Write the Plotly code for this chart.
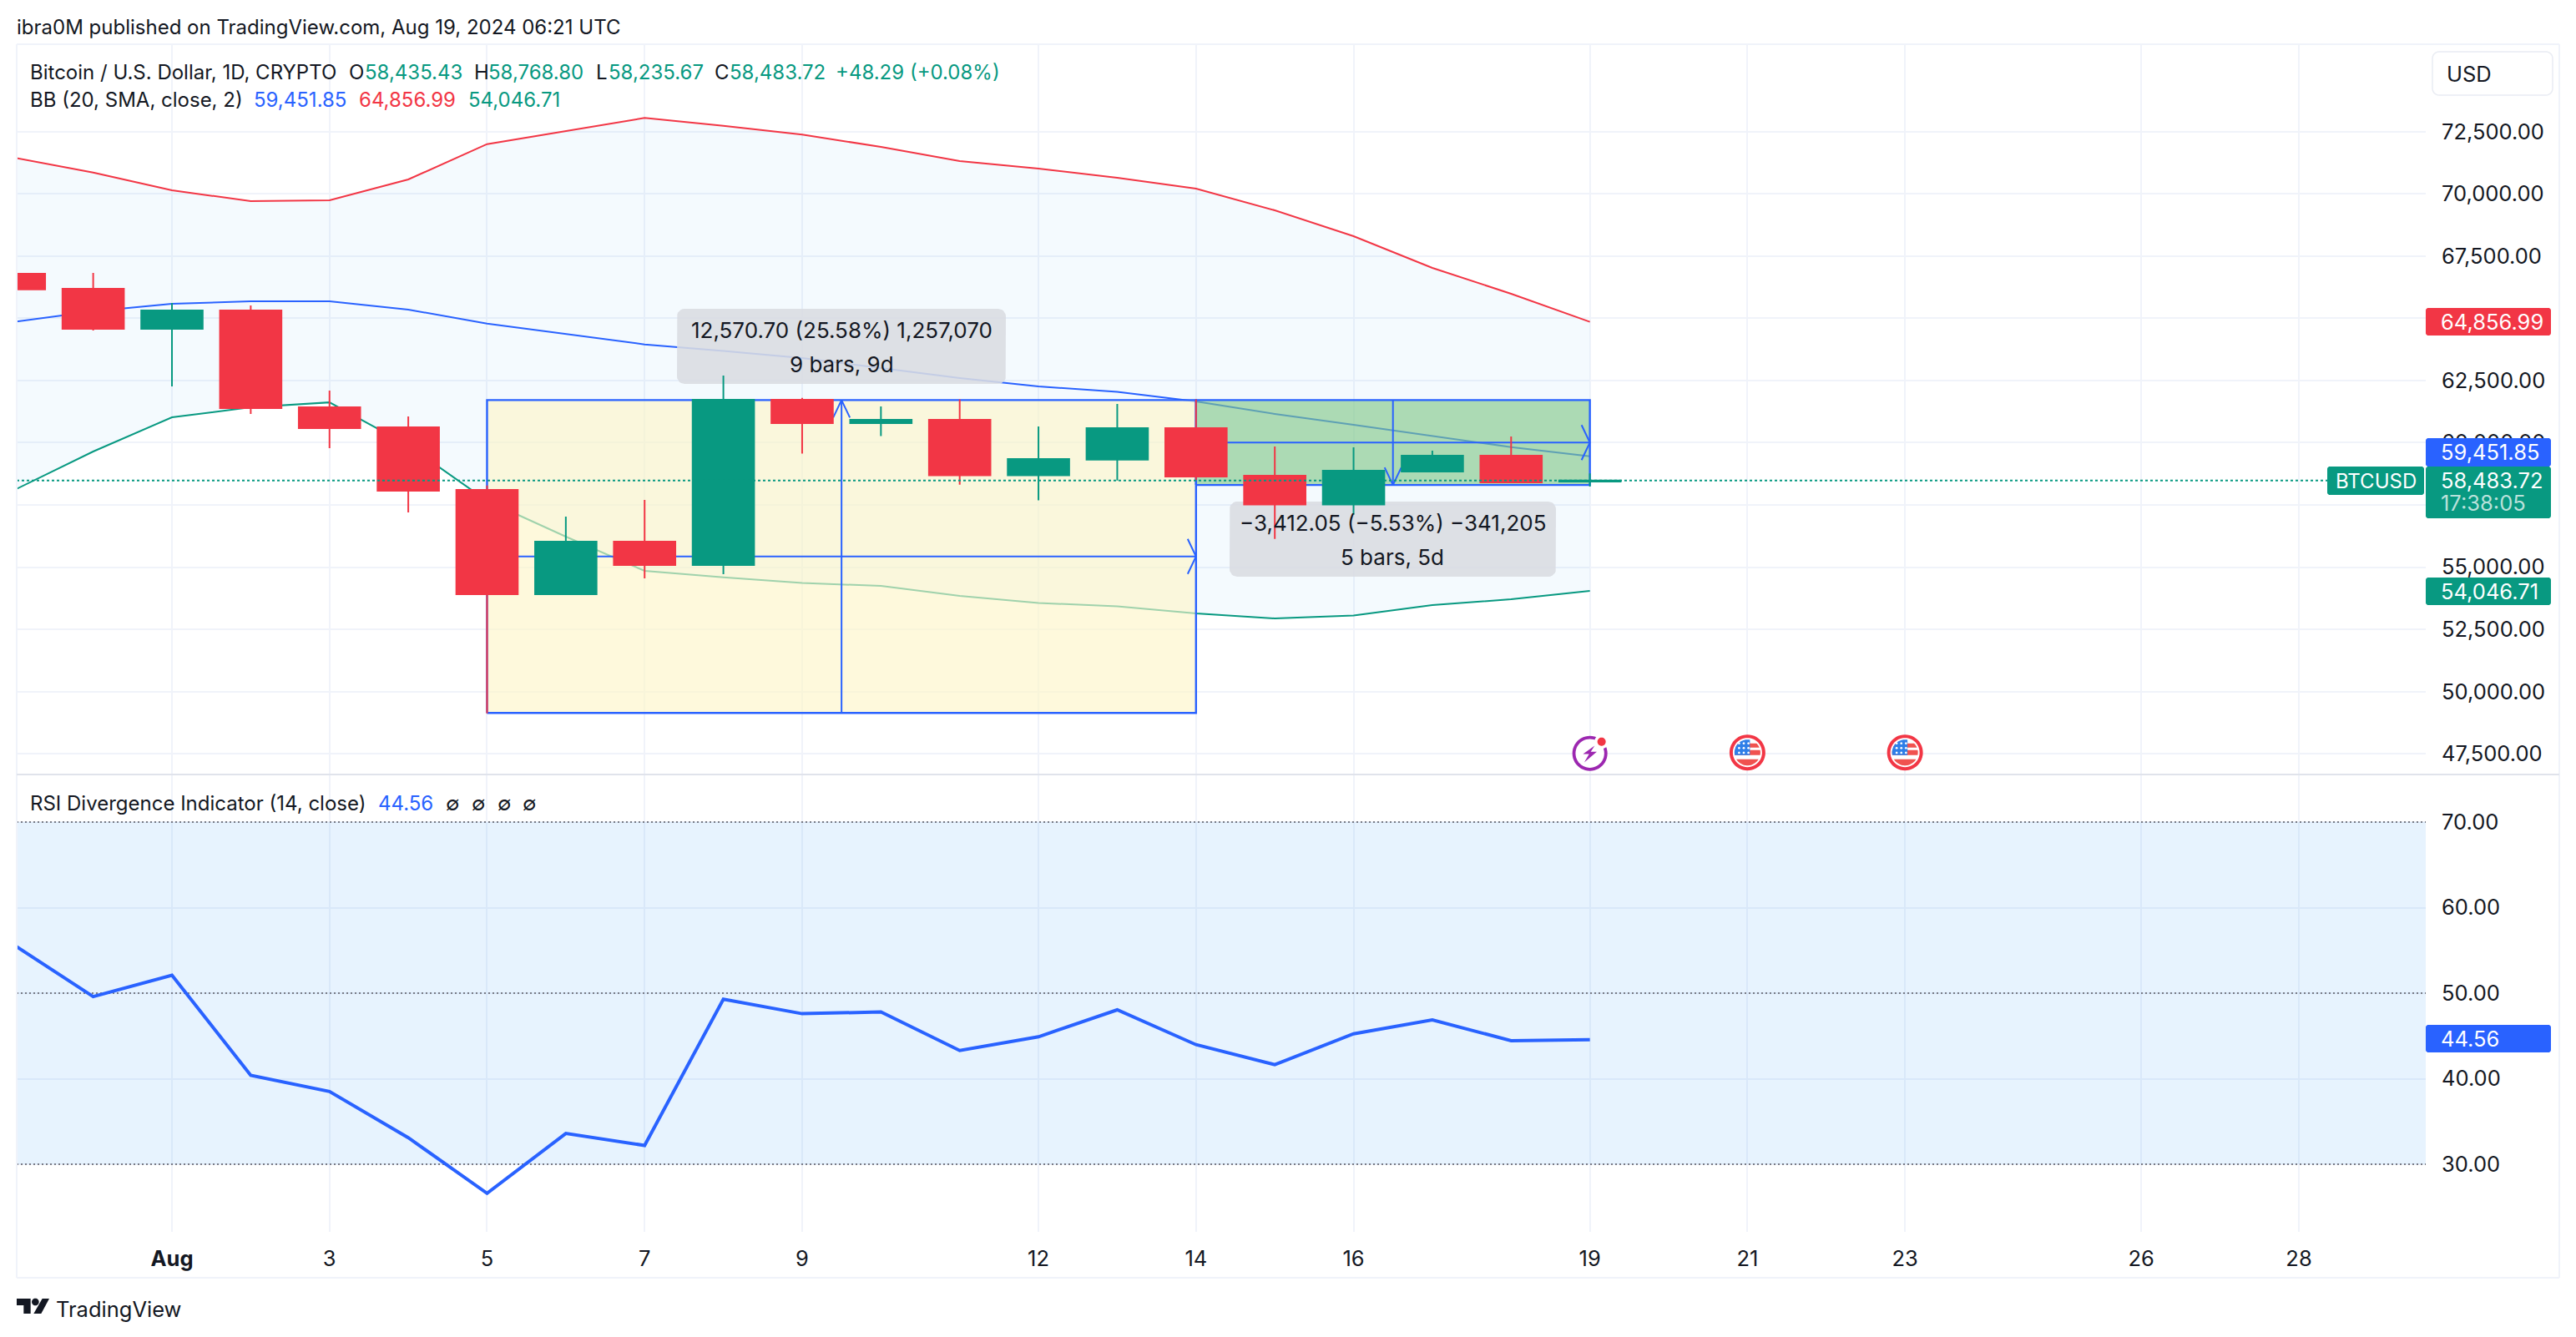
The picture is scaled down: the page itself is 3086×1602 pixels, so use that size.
import math
import pandas as pd
import plotly.graph_objects as go

W, H = 3086, 1602
RED, GREEN, BLUE, INK = "#f23645", "#089981", "#2962ff", "#131722"
GRID = "#f0f3fa"
FONT = "Inter"

dates = ["2024-07-30", "2024-07-31"] + [f"2024-08-{d:02d}" for d in range(1, 20)]
opens = [66789, 66185, 64576, 65313, 61423, 60619, 58103, 53912, 56024, 55085, 61725,
         60786, 60920, 58687, 59321, 60585, 58673, 57513, 58841, 59478, 58435.43]
highs = [66900, 66823, 65615, 65515, 62094, 61054, 58281, 57030, 57701, 62698, 61800,
         61457, 61739, 60652, 61558, 61739, 59847, 59814, 59680, 60253, 58768.80]
lows = [65300, 64509, 62262, 61155, 59780, 57198, 49121, 53900, 54549, 54716, 59559,
        60266, 58315, 57681, 58482, 58500, 56135, 57104, 58818, 58385, 58235.67]
closes = [66162, 64576, 65313, 61390, 60585, 58070, 53912, 56024, 55085, 61725, 60786,
          60920, 58687, 59344, 60585, 58640, 57513, 58875, 59478, 58405, 58483.72]
bb_upper = [71450, 70857, 70142, 69707, 69740, 70578, 71997, 72534, 73050, 72735, 72379,
            71886, 71316, 71014, 70646, 70210, 69338, 68298, 67024, 65984, 64856.99]
bb_basis = [64854, 65280, 65582, 65682, 65682, 65347, 64787, 64374, 63949, 63687, 63402,
            63000, 62597, 62262, 62040, 61658, 61155, 60719, 60283, 59824, 59451.85]
bb_lower = [58100, 59646, 61021, 61423, 61620, 59891, 57667, 56225, 54851, 54589, 54361,
            54247, 53845, 53559, 53429, 53140, 52939, 53056, 53476, 53710, 54046.71]
rsi = [55.6, 49.6, 52.1, 40.4, 38.5, 33.1, 26.6, 33.6, 32.2, 49.3, 47.6,
       47.8, 43.3, 44.9, 48.05, 43.98, 41.64, 45.25, 46.88, 44.44, 44.56]

price_ticks = [47500, 50000, 52500, 55000, 57500, 60000, 62500, 65000, 67500, 70000, 72500]
price_tick_text = ["47,500.00", "50,000.00", "52,500.00", "55,000.00", "", "60,000.00", "62,500.00", "", "67,500.00", "70,000.00", "72,500.00"]
rsi_ticks = [30, 40, 50, 60, 70]
date_ticks = ["2024-08-01", "2024-08-03", "2024-08-05", "2024-08-07", "2024-08-09", "2024-08-12", "2024-08-14",
              "2024-08-16", "2024-08-19", "2024-08-21", "2024-08-23", "2024-08-26", "2024-08-28"]
date_tick_text = ["<b>Aug</b>", "3", "5", "7", "9", "12", "14", "16", "19", "21", "23", "26", "28"]
event_days = ["2024-08-21", "2024-08-23"]

long_start, long_end = "2024-08-05", "2024-08-14"
long_low, long_high = 49142.0, 61713.0
short_start, short_end = "2024-08-14", "2024-08-19"
short_high, short_low = 61713.0, 58301.0
last_price = 58483.72

# pixel geometry of the panes
PX_LEFT, PX_RIGHT, PX_TOP, PX_SPLIT, PX_BOTTOM = 20, 2906, 53, 928, 1476
AUG1_PX, PX_PER_DAY = 206.0, 94.37
Y_72500_PX, USD_PER_PX = 157.7, 33.535
aug1 = pd.Timestamp("2024-08-01")


def px_x(px):
    return (aug1 + pd.Timedelta(days=(px - AUG1_PX) / PX_PER_DAY)).round("s")


def px_y(py):
    return 72500 - (py - Y_72500_PX) * USD_PER_PX


def day_px(d):
    return AUG1_PX + (pd.Timestamp(d) - aug1) / pd.Timedelta(days=1) * PX_PER_DAY


x_range = [px_x(PX_LEFT), px_x(PX_RIGHT)]
y_range = [px_y(PX_SPLIT), px_y(PX_TOP)]
rsi_range = [70 - (PX_BOTTOM - 985) / 10.25, 70 + (985 - PX_SPLIT) / 10.25]

fig = go.Figure()

# Bollinger bands (bottom of the stack)
fig.add_trace(go.Scatter(x=dates, y=bb_upper, mode="lines", line=dict(color=RED, width=2)))
fig.add_trace(go.Scatter(x=dates, y=bb_lower, mode="lines", line=dict(color=GREEN, width=2),
                         fill="tonexty", fillcolor="rgba(33,150,243,0.05)"))
fig.add_trace(go.Scatter(x=dates, y=bb_basis, mode="lines", line=dict(color=BLUE, width=2)))


def poly(xs, ys, fill=None, line=None, width=2):
    fig.add_trace(go.Scatter(x=xs, y=ys, mode="lines",
                             line=dict(color=line or "rgba(0,0,0,0)", width=width),
                             fill="toself" if fill else None, fillcolor=fill))


# position tool fills
poly([long_start, long_end, long_end, long_start, long_start], [long_low, long_low, long_high, long_high, long_low],
     fill="rgba(253,245,199,0.62)", line=BLUE, width=2.4)
poly([short_start, short_end, short_end, short_start, short_start], [short_low, short_low, short_high, short_high, short_low],
     fill="rgba(128,198,134,0.62)", line=BLUE, width=2.4)

# measure arrows
long_mid_x = pd.Timestamp(long_start) + (pd.Timestamp(long_end) - pd.Timestamp(long_start)) / 2
long_mid_y = (long_low + long_high) / 2
short_mid_x = pd.Timestamp(short_start) + (pd.Timestamp(short_end) - pd.Timestamp(short_start)) / 2
short_mid_y = (short_low + short_high) / 2


def px_dx(n):
    return pd.Timedelta(seconds=round(n * 86400 / PX_PER_DAY))


hw, hl = 10, 21
poly([long_start, long_end, None, pd.Timestamp(long_end) - px_dx(hw), long_end, pd.Timestamp(long_end) - px_dx(hw)],
     [long_mid_y, long_mid_y, None, long_mid_y + hl * USD_PER_PX, long_mid_y, long_mid_y - hl * USD_PER_PX], line=BLUE)
poly([long_mid_x, long_mid_x, None, long_mid_x - px_dx(hw), long_mid_x, long_mid_x + px_dx(hw)],
     [long_low, long_high, None, long_high - hl * USD_PER_PX, long_high, long_high - hl * USD_PER_PX], line=BLUE)
poly([short_start, short_end, None, pd.Timestamp(short_end) - px_dx(hw), short_end, pd.Timestamp(short_end) - px_dx(hw)],
     [short_mid_y, short_mid_y, None, short_mid_y + hl * USD_PER_PX, short_mid_y, short_mid_y - hl * USD_PER_PX], line=BLUE)
poly([short_mid_x, short_mid_x, None, short_mid_x - px_dx(hw), short_mid_x, short_mid_x + px_dx(hw)],
     [short_high, short_low, None, short_low + hl * USD_PER_PX, short_low, short_low + hl * USD_PER_PX], line=BLUE)


def rounded(x0, y0, x1, y1, r=9):
    pts = []
    for cx, cy, a in [(x1 - r, y0 + r, -90), (x1 - r, y1 - r, 0), (x0 + r, y1 - r, 90), (x0 + r, y0 + r, 180)]:
        for k in range(7):
            t = math.radians(a + k * 15)
            pts.append((cx + r * math.cos(t), cy + r * math.sin(t)))
    pts.append(pts[0])
    return pts


# measure tooltips (semi-transparent, under the candles)
for box in [(811, 370, 1205, 460), (1473, 601, 1864, 691)]:
    p = rounded(*box)
    poly([px_x(a) for a, _ in p], [px_y(b) for _, b in p], fill="rgba(217,220,225,0.88)")

# candles on an overlaid pair of axes so they sit above the drawings
fig.add_trace(go.Candlestick(x=dates, open=opens, high=highs, low=lows, close=closes,
                             xaxis="x3", yaxis="y3", whiskerwidth=0,
                             increasing=dict(line=dict(color=GREEN, width=2), fillcolor=GREEN),
                             decreasing=dict(line=dict(color=RED, width=2), fillcolor=RED)))
fig.add_trace(go.Scatter(x=x_range, y=[last_price, last_price], xaxis="x3", yaxis="y3", mode="lines",
                         line=dict(color=GREEN, width=2, dash="3px,3px")))

# RSI pane
fig.add_trace(go.Scatter(x=dates, y=rsi, xaxis="x2", yaxis="y2", mode="lines",
                         line=dict(color=BLUE, width=4)))

shapes = []


def P(x, y):
    return x / W, 1 - y / H


def path_px(points):
    return "M" + " L".join(f"{x / W:.6f},{1 - y / H:.6f}" for x, y in points) + " Z"


def add_poly(points, color):
    shapes.append(dict(type="path", xref="paper", yref="paper", path=path_px(points), fillcolor=color,
                       line=dict(width=0), layer="above"))


def badge(x0, y0, x1, y1, color, r=3):
    add_poly(rounded(x0, y0, x1, y1, r), color)


def hline(x0, y0, x1, y1, color, width=2):
    a, b = P(x0, y0), P(x1, y1)
    shapes.append(dict(type="line", xref="paper", yref="paper", x0=a[0], y0=a[1], x1=b[0], y1=b[1],
                       line=dict(color=color, width=width), layer="above"))


# RSI band and levels
shapes.append(dict(type="rect", xref="x2", yref="y2", x0=x_range[0], x1=x_range[1], y0=30, y1=70,
                   fillcolor="rgba(33,150,243,0.11)", line=dict(width=0), layer="between"))
for lvl in [70, 50, 30]:
    shapes.append(dict(type="line", xref="x2", yref="y2", x0=x_range[0], x1=x_range[1], y0=lvl, y1=lvl,
                       line=dict(color="#787b86", width=2, dash="2px,3px"), layer="between"))

# frame
hline(20, 53, 3066, 53, GRID)
hline(20, 53, 20, 1531, GRID)
hline(3066, 53, 3066, 1531, GRID)
hline(20, 1531, 3066, 1531, GRID)
hline(20, 928, 3066, 928, "#e0e3eb")

# USD button
shapes.append(dict(type="path", xref="paper", yref="paper", path=path_px(rounded(2914, 62, 3058, 114, 8)),
                   fillcolor="white", line=dict(color="#e9ecf3", width=1.5), layer="above"))

# price scale badges
badge(2906, 369, 3056, 402, RED)
badge(2906, 525, 3056, 559, BLUE)
badge(2906, 559, 3056, 621, GREEN)
badge(2788, 559, 2904, 593, GREEN)
badge(2906, 692, 3056, 725, GREEN)
badge(2906, 1228, 3056, 1261, BLUE)


# event icons
def circle_pts(cx, cy, r, n=48):
    return [(cx + r * math.cos(2 * math.pi * i / n), cy + r * math.sin(2 * math.pi * i / n)) for i in range(n)]


def clipped(cx, cy, r, x0, y0, x1, y1):
    return [(min(max(a, cx + x0), cx + x1), min(max(b, cy + y0), cy + y1)) for a, b in circle_pts(cx, cy, r, 96)]


for day in event_days:
    cx, cy = day_px(day), 901.7
    add_poly(circle_pts(cx, cy, 21.5), "#f23645")
    add_poly(circle_pts(cx, cy, 17.5), "white")
    for box in [(-15.5, -11, 16, -6), (-15.5, -3, 16, 3), (-15.5, 8, 16, 16)]:
        add_poly(clipped(cx, cy, 15.5, *box), "#f0524f")
    add_poly(clipped(cx, cy, 15.5, -16, -16, 3, 3), "#2f7fe8")
    for i in range(3):
        for j in range(3):
            add_poly(circle_pts(cx - 10 + i * 5.6, cy - 11 + j * 5.6, 1.4, 8), "white")

cx, cy = day_px("2024-08-19"), 902.7
add_poly(circle_pts(cx, cy, 21), "#9c27b0")
add_poly(circle_pts(cx, cy, 17.2), "white")
add_poly(circle_pts(cx + 14, cy - 14, 8.5), "white")
add_poly(circle_pts(cx + 14, cy - 14, 5), RED)
add_poly([(cx + 5.7, cy - 9.3), (cx - 8.3, cy + 0.7), (cx - 1, cy + 0.7), (cx - 6.7, cy + 10.7),
          (cx + 8.3, cy - 2), (cx + 1, cy - 2)], "#9c27b0")

# TradingView logo
LX, LY = 10, 1545
add_poly([(LX + a / 3, LY + b / 3) for a, b in [(30, 33), (80, 33), (80, 87), (55, 87), (55, 57), (30, 57)]], INK)
add_poly(circle_pts(LX + 97 / 3, LY + 45 / 3, 12 / 3 + 0.3), INK)
add_poly([(LX + a / 3, LY + b / 3) for a, b in [(122, 33), (147, 33), (118, 87), (91, 87)]], INK)

ann = []


def T(x, y, text, color=INK, size=24, anchor="left"):
    a, b = P(x, y)
    ann.append(dict(x=a, y=b, xref="paper", yref="paper", text=text, showarrow=False, xanchor=anchor, yanchor="middle",
                    font=dict(family=FONT, size=size, color=color), borderpad=0, borderwidth=0))


T(20, 32, "ibra0M published on TradingView.com, Aug 19, 2024 06:21 UTC")
T(36, 86, "Bitcoin / U.S. Dollar, 1D, CRYPTO")
T(418, 86, "O")
T(437, 86, "58,435.43", GREEN)
T(568, 86, "H")
T(585, 86, "58,768.80", GREEN)
T(714, 86, "L")
T(729, 86, "58,235.67", GREEN)
T(856, 86, "C")
T(874, 86, "58,483.72", GREEN)
T(1001, 86, "+48.29 (+0.08%)", GREEN)
T(36, 120, "BB (20, SMA, close, 2)")
T(304, 120, "59,451.85", BLUE)
T(430, 120, "64,856.99", RED)
T(561, 120, "54,046.71", GREEN)
T(36, 962, "RSI Divergence Indicator (14, close)")
T(453, 962, "44.56", BLUE)
for xp in [534, 565, 596, 626]:
    T(xp, 962, "∅")
T(1008, 395, "12,570.70 (25.58%) 1,257,070", size=26, anchor="center")
T(1008, 436, "9 bars, 9d", size=26, anchor="center")
T(1668, 627, "−3,412.05 (−5.53%) −341,205", size=26, anchor="center")
T(1668, 667, "5 bars, 5d", size=26, anchor="center")
T(2931, 88, "USD", size=25.5)
T(2924, 385, "64,856.99", "white", size=25.5)
T(2924, 541, "59,451.85", "white", size=25.5)
T(2924, 575, "58,483.72", "white", size=25.5)
T(2924, 603, "17:38:05", "rgba(255,255,255,0.72)", size=25.5)
T(2846, 576, "BTCUSD", "white", anchor="center")
T(2924, 708, "54,046.71", "white", size=25.5)
T(2924, 1244, "44.56", "white", size=25.5)
T(67, 1568, "TradingView", size=25.5)

axis_common = dict(showline=False, zeroline=False, ticks="")
dom_main = [1 - PX_SPLIT / H, 1 - PX_TOP / H]
dom_rsi = [1 - PX_BOTTOM / H, 1 - PX_SPLIT / H]
dom_x = [PX_LEFT / W, PX_RIGHT / W]
tick_font = dict(family=FONT, size=25.5, color=INK)
fig.update_layout(
    width=W, height=H, margin=dict(l=0, r=0, t=0, b=0, pad=0),
    paper_bgcolor="white", plot_bgcolor="white", showlegend=False, hovermode=False,
    font=dict(family=FONT, size=24, color=INK), boxgap=0.22, boxgroupgap=0,
    xaxis=dict(domain=dom_x, range=x_range, type="date", anchor="y", tickvals=date_ticks, showticklabels=False,
               showgrid=True, gridcolor=GRID, gridwidth=2, **axis_common),
    xaxis2=dict(domain=dom_x, range=x_range, type="date", anchor="y2", tickvals=date_ticks, ticktext=date_tick_text,
                showgrid=True, gridcolor=GRID, gridwidth=2, ticklabelstandoff=14, tickangle=0,
                tickfont=tick_font, **axis_common),
    xaxis3=dict(domain=dom_x, range=x_range, type="date", anchor="y3", overlaying="x", visible=False,
                rangeslider=dict(visible=False)),
    yaxis=dict(domain=dom_main, range=y_range, anchor="x", side="right", tickvals=price_ticks, ticktext=price_tick_text,
               showgrid=True, gridcolor=GRID, gridwidth=2, ticklabelstandoff=18,
               tickfont=tick_font, **axis_common),
    yaxis2=dict(domain=dom_rsi, range=rsi_range, anchor="x2", side="right", tickvals=rsi_ticks, tickformat=".2f",
                showgrid=True, gridcolor=GRID, gridwidth=2, ticklabelstandoff=18,
                tickfont=tick_font, **axis_common),
    yaxis3=dict(domain=dom_main, range=y_range, anchor="x3", overlaying="y", visible=False),
    shapes=shapes, annotations=ann,
)

fig.write_html("out.html", config={"displayModeBar": False},
               post_script="document.body.style.margin='0';document.body.style.overflow='hidden';")
